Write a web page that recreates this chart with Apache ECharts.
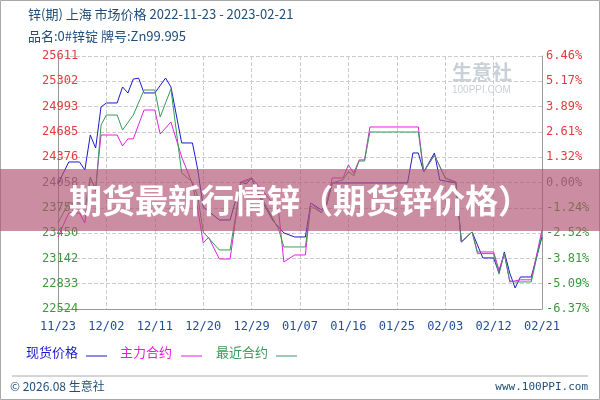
<!DOCTYPE html>
<html><head><meta charset="utf-8">
<script src="https://cdn.jsdelivr.net/npm/echarts@6/dist/echarts.min.js"></script>
<style>html,body{margin:0;padding:0;background:#fff}#c{width:600px;height:400px}</style>
</head><body><div id="c"></div>
<script>
const dateLabels = ['11/23','12/02','12/11','12/20','12/29','01/07','01/16','01/25','02/03','02/12','02/21'];
const leftTicks = ['22524','22833','23142','23450','23759','24058','24376','24685','24993','25302','25611'];
const rightTicks = ['-6.37%','-5.09%','-3.81%','-2.52%','-1.24%','0.00%','1.32%','2.61%','3.89%','5.17%','6.46%'];
const spotPrice = [[0,24050],[2,24318],[4,24318],[5,24220],[6,24647],[7,24488],[8,24989],[9,25038],[11,25038],[12,25233],[13,25160],[14,25330],[15,25340],[16,25160],[18,25160],[20,25342],[21,25233],[23,24550],[25,24550],[26,24220],[27,23770],[30,23610],[32,23610],[34,24074],[35,24050],[36,24123],[37,23950],[40,23600],[42,23452],[44,23403],[46,23403],[47,23818],[49,23732],[50,23818],[51,24062],[65,24062],[66,24428],[67,24428],[68,24196],[70,24428],[71,24098],[74,24062],[75,23342],[77,23464],[79,23147],[81,23147],[82,22964],[83,23220],[84,22964],[85,22781],[86,22915],[88,22915],[90,23403]];
const mainContract = [[0,23403],[2,23696],[4,23696],[5,23574],[6,24123],[7,24000],[8,24647],[9,24647],[11,24647],[12,24513],[13,24600],[14,24600],[16,24952],[18,24952],[19,24659],[21,24806],[23,24379],[25,24050],[26,23740],[27,23330],[28,23400],[30,23134],[32,23134],[34,24074],[36,24123],[41,23734],[42,23098],[44,23183],[46,23183],[47,23818],[49,23700],[50,23818],[51,24123],[53,24123],[54,24282],[55,24180],[56,24343],[57,24343],[58,24745],[67,24745],[68,24196],[70,24403],[72,24123],[74,24074],[75,23342],[77,23464],[78,23220],[81,23220],[82,23000],[83,23200],[84,22854],[86,22880],[88,22880],[90,23489]];
const nearContract = [[0,23574],[2,23818],[4,23818],[5,23740],[6,24135],[7,23960],[8,24769],[9,24891],[11,24891],[12,24708],[14,24891],[16,25196],[18,25196],[19,24867],[21,25208],[23,24184],[25,24074],[26,23891],[27,23464],[30,23244],[32,23244],[34,24060],[36,24110],[41,23500],[42,23281],[43,23281],[46,23281],[47,23780],[49,23700],[50,23800],[51,24062],[53,24100],[54,24200],[55,24150],[56,24330],[57,24330],[58,24684],[67,24684],[68,24196],[70,24403],[72,24123],[74,24062],[75,23342],[77,23464],[78,23200],[81,23200],[82,22950],[83,23200],[84,22870],[85,22854],[88,22854],[90,23440]];

const MIN=22524, MAX=25611, STEP=(MAX-MIN)/10;
const idx = v => Math.round((v-MIN)/STEP);
const colL = (v,i)=>{const k=idx(v); return k>5?'#e8393c':(k===5?'#777':'#3a9a3a');};
const mono = '"DejaVu Sans Mono", monospace';
const chart = echarts.init(document.getElementById('c'));
const ser = (name,data,color)=>({name,type:'line',data,symbol:'none',lineStyle:{color,width:1},itemStyle:{color},animation:false,z:3});
chart.setOption({
  animation:false,
  grid:{left:58,right:58,top:56,bottom:91},
  xAxis:{type:'value',min:0,max:90,interval:9,
    axisLine:{show:true,lineStyle:{color:'#999'}},axisTick:{show:false},
    splitLine:{show:true,lineStyle:{type:'dashed',color:'#ccc'}},
    axisLabel:{margin:12,color:'#1f4e9a',fontFamily:mono,fontSize:12,formatter:v=>dateLabels[Math.round(v/9)]}},
  yAxis:[
    {type:'value',min:MIN,max:MAX,interval:STEP,position:'left',
     axisLine:{show:true,lineStyle:{color:'#999'}},axisTick:{show:false},
     splitLine:{show:true,lineStyle:{type:'dashed',color:'#ccc'}},
     axisLabel:{margin:16,align:'left',color:colL,fontFamily:mono,fontSize:12,formatter:v=>leftTicks[idx(v)]}},
    {type:'value',min:MIN,max:MAX,interval:STEP,position:'right',
     axisLine:{show:true,lineStyle:{color:'#999'}},axisTick:{show:false},splitLine:{show:false},
     axisLabel:{margin:4,color:colL,fontFamily:mono,fontSize:12,formatter:v=>rightTicks[idx(v)]}}
  ],
  series:[ser('现货价格',spotPrice,'#1a1acc'),ser('主力合约',mainContract,'#e020e0'),ser('最近合约',nearContract,'#3a9a5a')],
  graphic:[
    {type:'rect',shape:{x:0.5,y:0.5,width:599,height:399},style:{fill:'none',stroke:'#aaa'}},
    {type:'text',left:28,top:8,style:{text:'锌(期) 上海 市场价格 2022-11-23 - 2023-02-21',fill:'#1f4e79',font:'13px "Noto Sans CJK SC", monospace'}},
    {type:'text',left:28,top:30,style:{text:'品名:0#锌锭 牌号:Zn99.995',fill:'#1f4e79',font:'13px "Noto Sans CJK SC", monospace'}},
    {type:'text',left:452,top:62,style:{text:'生意社',fill:'#c8d0d8',font:'bold 20px "Noto Sans CJK SC"'}},
    {type:'text',left:452,top:85,style:{text:'100PPI.COM',fill:'#c8d0d8',font:'10px sans-serif'}},
    {type:'text',left:26,top:346,style:{text:'现货价格',fill:'#1a1acc',font:'13px "Noto Sans CJK SC"'}},
    {type:'line',shape:{x1:86,y1:356,x2:107,y2:356},style:{stroke:'#1a1acc',lineWidth:1}},
    {type:'text',left:120,top:346,style:{text:'主力合约',fill:'#e020e0',font:'13px "Noto Sans CJK SC"'}},
    {type:'line',shape:{x1:181,y1:356,x2:202,y2:356},style:{stroke:'#e020e0',lineWidth:1}},
    {type:'text',left:216,top:346,style:{text:'最近合约',fill:'#3a9a5a',font:'13px "Noto Sans CJK SC"'}},
    {type:'line',shape:{x1:276,y1:356,x2:297,y2:356},style:{stroke:'#3a9a5a',lineWidth:1}},
    {type:'line',shape:{x1:12,y1:376,x2:588,y2:376},style:{stroke:'#aaa',lineWidth:1}},
    {type:'text',left:10,top:380,style:{text:'© 2026.08 生意社',fill:'#1f4e79',font:'12px "Noto Sans CJK SC"'}},
    {type:'text',right:12,top:382,style:{text:'www.100PPI.com',fill:'#1f4e79',font:'11px "DejaVu Sans Mono"'}},
    {type:'rect',z:100,shape:{x:0,y:169,width:600,height:62},style:{fill:'rgba(175,80,110,0.65)'}},
    {type:'text',z:101,x:300,y:200,style:{text:'期货最新行情锌（期货锌价格）',fill:'#fff',align:'center',verticalAlign:'middle',font:'bold 33px "Noto Sans CJK SC"',shadowColor:'rgba(0,0,0,0.6)',shadowBlur:4,shadowOffsetX:1,shadowOffsetY:1}}
  ]
});
</script></body></html>
